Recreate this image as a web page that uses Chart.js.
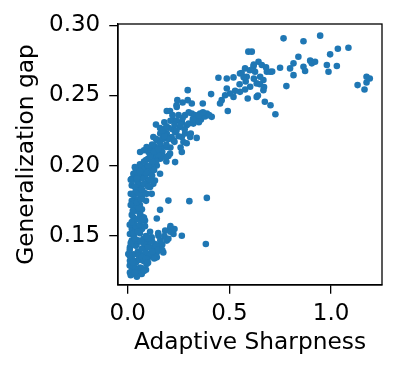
<!DOCTYPE html>
<html>
<head>
<meta charset="utf-8">
<script src="https://cdn.jsdelivr.net/npm/chart.js@4"></script>
<style>
  html, body { margin: 0; padding: 0; background: #fff; }
  #wrap { width: 399px; height: 374px; }
</style>
</head>
<body>
<div id="wrap"><canvas id="scatter"></canvas></div>
<script>
// DADOS
const xTicks = [0.0, 0.5, 1.0];
const yTicks = [0.15, 0.20, 0.25, 0.30];
const xLabel = 'Adaptive Sharpness';
const yLabel = 'Generalization gap';

// [adaptive sharpness, generalization gap]
const points = [
  // canto superior direito
  [0.766, 0.2907], [0.946, 0.2926], [0.864, 0.2886], [1.085, 0.284], [1.033, 0.2833],
  [0.995, 0.2793], [0.839, 0.2776], [0.897, 0.2748], [0.905, 0.2729], [0.864, 0.2705],
  [0.815, 0.2729], [0.798, 0.2693], [0.749, 0.2698], [0.815, 0.2645], [0.780, 0.2567],
  [0.872, 0.2674], [0.979, 0.2717], [0.987, 0.2669], [1.028, 0.2710], [1.130, 0.2574],
  [1.164, 0.2543], [1.174, 0.2633], [1.190, 0.2621], [1.174, 0.2593], [0.921, 0.2740],
  // grupo do meio
  [0.593, 0.2812], [0.610, 0.2812], [0.577, 0.2693], [0.552, 0.2657], [0.585, 0.2633],
  [0.520, 0.2629], [0.487, 0.2621], [0.446, 0.2626], [0.618, 0.2707], [0.643, 0.2740],
  [0.659, 0.2717], [0.684, 0.2669], [0.700, 0.2669], [0.626, 0.2669], [0.651, 0.2633],
  [0.667, 0.2610], [0.634, 0.2586], [0.602, 0.2562], [0.577, 0.2543], [0.552, 0.2526],
  [0.528, 0.2533], [0.503, 0.2514], [0.479, 0.2502], [0.462, 0.2467], [0.454, 0.2443],
  [0.520, 0.2490], [0.487, 0.2550], [0.590, 0.2479], [0.634, 0.2490], [0.667, 0.2538],
  [0.674, 0.2455], [0.702, 0.2431], [0.726, 0.2367], [0.492, 0.2390], [0.410, 0.2510],
  [0.560, 0.2660], [0.600, 0.2680], [0.620, 0.2620], [0.650, 0.2580], [0.680, 0.2700],
  [0.710, 0.2670], [0.580, 0.2600], [0.550, 0.2580], [0.640, 0.2500], [0.670, 0.2560],
  [0.620, 0.2720], [0.570, 0.2630],
  // ramo 0.2 - 0.45
  [0.369, 0.2443], [0.295, 0.2538], [0.295, 0.2467], [0.315, 0.2443], [0.244, 0.2467],
  [0.208, 0.2390], [0.192, 0.2390], [0.241, 0.2419], [0.282, 0.2360], [0.315, 0.2371],
  [0.356, 0.2371], [0.389, 0.2371], [0.413, 0.2348], [0.339, 0.2336], [0.323, 0.2300],
  [0.290, 0.2288], [0.256, 0.2276], [0.225, 0.2324], [0.266, 0.2312], [0.233, 0.2240],
  [0.216, 0.2205], [0.266, 0.2205], [0.282, 0.2229], [0.307, 0.2205], [0.339, 0.2198],
  [0.274, 0.2169], [0.266, 0.2098], [0.225, 0.2181], [0.192, 0.2229],
  [0.220, 0.2360], [0.240, 0.2320], [0.270, 0.2340], [0.300, 0.2380], [0.330, 0.2360],
  [0.360, 0.2330], [0.380, 0.2350], [0.400, 0.2360], [0.280, 0.2260], [0.250, 0.2210],
  [0.230, 0.2170], [0.210, 0.2130], [0.200, 0.2070], [0.190, 0.2030], [0.260, 0.2130],
  [0.290, 0.2160], [0.310, 0.2230], [0.350, 0.2310], [0.180, 0.2310], [0.170, 0.2100],
  [0.160, 0.2050], [0.140, 0.2070], [0.220, 0.2260], [0.240, 0.2430], [0.270, 0.2450],
  [0.210, 0.2320], [0.230, 0.2290], [0.250, 0.2360], [0.260, 0.2290], [0.300, 0.2300],
  [0.320, 0.2330], [0.350, 0.2360], [0.370, 0.2380], [0.240, 0.2250],
  // ramo esquerdo superior
  [0.139, 0.2293], [0.159, 0.2269], [0.167, 0.2229], [0.175, 0.2193], [0.126, 0.2205],
  [0.143, 0.2181], [0.093, 0.2133], [0.118, 0.2133], [0.102, 0.2098], [0.061, 0.2098],
  [0.159, 0.2133], [0.192, 0.2133], [0.208, 0.2086], [0.184, 0.2062], [0.159, 0.2074],
  [0.134, 0.2050], [0.233, 0.2026], [0.143, 0.2002], [0.110, 0.1990], [0.085, 0.1990],
  [0.061, 0.1979], [0.044, 0.1967], [0.028, 0.1943], [0.020, 0.1907], [0.077, 0.1931],
  [0.110, 0.1943], [0.159, 0.1943], [0.134, 0.1895], [0.126, 0.1871], [0.110, 0.1848],
  [0.093, 0.1800], [0.118, 0.1800], [0.069, 0.1824], [0.044, 0.1824], [0.028, 0.1800],
  [0.028, 0.1752], [0.044, 0.1705], [0.061, 0.1657], [0.028, 0.1633], [0.020, 0.1586],
  [0.044, 0.1562], [0.077, 0.1633], [0.085, 0.1610],
  [0.065, 0.1860], [0.085, 0.1920], [0.095, 0.1880], [0.105, 0.1960], [0.120, 0.1990],
  [0.140, 0.2030], [0.100, 0.2050], [0.115, 0.2100], [0.130, 0.2140], [0.150, 0.2080],
  [0.165, 0.2130], [0.150, 0.2180], [0.170, 0.2190], [0.190, 0.2150], [0.200, 0.2190],
  [0.160, 0.2230], [0.180, 0.2260], [0.200, 0.2270],
  // coluna densa perto de zero
  [0.011, 0.1514], [0.020, 0.1467], [0.044, 0.1443], [0.011, 0.1419], [0.003, 0.1371],
  [0.011, 0.1324], [0.020, 0.1276], [0.011, 0.1240], [0.036, 0.1229], [0.069, 0.1229],
  [0.061, 0.1276], [0.093, 0.1300], [0.102, 0.1348], [0.118, 0.1371], [0.143, 0.1383],
  [0.175, 0.1383], [0.159, 0.1431], [0.134, 0.1443], [0.102, 0.1455], [0.077, 0.1479],
  [0.118, 0.1490], [0.151, 0.1502], [0.192, 0.1467], [0.225, 0.1514], [0.208, 0.1550],
  [0.225, 0.1550], [0.266, 0.1502], [0.184, 0.1538], [0.159, 0.1686], [0.143, 0.1624],
  [0.110, 0.1419], [0.143, 0.1348], [0.077, 0.1412], [0.061, 0.1371], [0.044, 0.1324],
  [0.028, 0.1300],
  [0.020, 0.1250], [0.030, 0.1280], [0.050, 0.1260], [0.040, 0.1310], [0.020, 0.1340],
  [0.060, 0.1330], [0.030, 0.1370], [0.050, 0.1390], [0.010, 0.1400], [0.040, 0.1430],
  [0.070, 0.1410], [0.020, 0.1460], [0.050, 0.1470], [0.030, 0.1500], [0.060, 0.1520],
  [0.020, 0.1550], [0.040, 0.1570], [0.070, 0.1550], [0.030, 0.1600], [0.050, 0.1620],
  [0.020, 0.1650], [0.060, 0.1660], [0.040, 0.1680], [0.030, 0.1710], [0.060, 0.1720],
  [0.020, 0.1750], [0.050, 0.1760], [0.070, 0.1780], [0.030, 0.1790], [0.040, 0.1820],
  [0.060, 0.1840], [0.020, 0.1860], [0.050, 0.1880], [0.080, 0.1870], [0.030, 0.1900],
  [0.070, 0.1910], [0.050, 0.1930], [0.090, 0.1950], [0.040, 0.1960], [0.070, 0.1980],
  [0.100, 0.2000], [0.060, 0.2010], [0.090, 0.2040], [0.120, 0.2030], [0.110, 0.2070],
  [0.130, 0.2100], [0.080, 0.2110], [0.150, 0.2120], [0.120, 0.2150], [0.140, 0.2190],
  [0.160, 0.2160], [0.180, 0.2210], [0.170, 0.2250], [0.190, 0.2280],
  [0.080, 0.1450], [0.090, 0.1380], [0.100, 0.1420], [0.120, 0.1460], [0.130, 0.1400],
  [0.080, 0.1320], [0.070, 0.1270], [0.100, 0.1480], [0.060, 0.1580], [0.080, 0.1630],
  [0.070, 0.1690], [0.090, 0.1750], [0.080, 0.1810], [0.100, 0.1850], [0.110, 0.1900],
  [0.120, 0.1930], [0.130, 0.1970], [0.030, 0.1520], [0.010, 0.1360], [0.010, 0.1290],
  [0.060, 0.1230], [0.090, 0.1260], [0.110, 0.1360], [0.140, 0.1430], [0.160, 0.1470],
  [0.170, 0.1440], [0.150, 0.1520], [0.190, 0.1480], [0.210, 0.1530], [0.230, 0.1550],
  [0.210, 0.1570],
  [0.015, 0.1220], [0.045, 0.1210], [0.025, 0.1310], [0.055, 0.1360], [0.015, 0.1450],
  [0.065, 0.1460], [0.035, 0.1480], [0.010, 0.1580], [0.050, 0.1530], [0.065, 0.1610],
  [0.025, 0.1680], [0.055, 0.1700], [0.015, 0.1720], [0.045, 0.1740], [0.065, 0.1760],
  [0.015, 0.1800], [0.055, 0.1800], [0.035, 0.1850], [0.070, 0.1830], [0.015, 0.1900],
  [0.045, 0.1910], [0.060, 0.1960], [0.035, 0.1990], [0.080, 0.2030], [0.020, 0.1600],
  [0.070, 0.1350], [0.035, 0.1240], [0.080, 0.1250], [0.090, 0.1340], [0.100, 0.1310],
  [0.120, 0.1390], [0.130, 0.1340], [0.150, 0.1400], [0.170, 0.1400], [0.180, 0.1500],
  [0.200, 0.1480], [0.090, 0.1500], [0.110, 0.1530], [0.085, 0.1570], [0.075, 0.1620],
  // pontos isolados
  [0.384, 0.1443], [0.200, 0.1752], [0.303, 0.1748], [0.389, 0.1771]
];

const TICK_FONT = { family: 'DejaVu Sans', size: 23 };
const TITLE_FONT = { family: 'DejaVu Sans', size: 23.3 };

// moldura (spines de cima e da direita)
const frame = {
  id: 'frame',
  afterDraw(chart) {
    const { ctx, chartArea: a } = chart;
    ctx.save();
    ctx.strokeStyle = '#000';
    ctx.lineWidth = 1.3;
    ctx.strokeRect(a.left, a.top, a.right - a.left, a.bottom - a.top);
    ctx.restore();
  }
};

new Chart(document.getElementById('scatter'), {
  type: 'scatter',
  data: {
    datasets: [{
      data: points.map(p => ({ x: p[0], y: p[1] })),
      backgroundColor: '#1f77b4',
      borderWidth: 0,
      pointRadius: 3.3,
      pointHoverRadius: 3.3
    }]
  },
  options: {
    responsive: true,
    maintainAspectRatio: false,
    animation: false,
    events: [],
    layout: { padding: { top: 24, right: 17, left: 0, bottom: 0 } },
    plugins: { legend: { display: false }, tooltip: { enabled: false } },
    scales: {
      x: {
        min: -0.0477,
        max: 1.25,
        afterBuildTicks: s => { s.ticks = xTicks.map(v => ({ value: v })); },
        afterFit: s => { s.height = 89; },
        ticks: {
          color: '#000', font: TICK_FONT, padding: 6, maxRotation: 0,
          callback: v => Number(v).toFixed(1)
        },
        grid: { drawOnChartArea: false, tickLength: 8.75, color: '#000', lineWidth: 1.3 },
        border: { color: '#000', width: 1.3 },
        title: { display: true, text: xLabel, color: '#000', font: TITLE_FONT, padding: { top: 0, bottom: 17.1 } }
      },
      y: {
        min: 0.1151,
        max: 0.3009,
        afterBuildTicks: s => { s.ticks = yTicks.map(v => ({ value: v })); },
        afterFit: s => { s.width = 118; },
        ticks: {
          color: '#000', font: TICK_FONT, padding: 9,
          callback: v => Number(v).toFixed(2)
        },
        grid: { drawOnChartArea: false, tickLength: 8.75, color: '#000', lineWidth: 1.3 },
        border: { color: '#000', width: 1.3 },
        title: { display: true, text: yLabel, color: '#000', font: TITLE_FONT, padding: { top: 13, bottom: 0 } }
      }
    }
  },
  plugins: [frame]
});
</script>
</body>
</html>
